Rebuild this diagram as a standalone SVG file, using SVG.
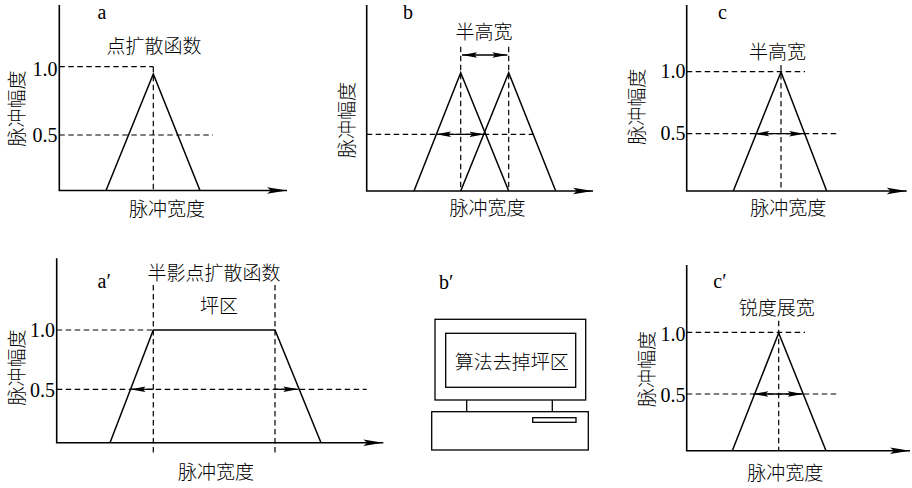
<svg xmlns="http://www.w3.org/2000/svg" width="912" height="488" viewBox="0 0 912 488">
  <style>
    .ax { stroke: #000; stroke-width: 1.6; fill: none; }
    .ln { stroke: #000; stroke-width: 1.5; fill: none; stroke-linejoin: miter; }
    .ds { stroke: #000; stroke-width: 1.2; fill: none; stroke-dasharray: 5.5 3.5; }
    .ar { stroke: #000; stroke-width: 1.3; fill: none; }
    .box { stroke: #000; stroke-width: 1.3; fill: #fff; }
    .cn { font-family: "Noto Sans CJK SC", "Noto Sans", sans-serif; font-size: 19px; font-weight: 300; fill: #000; text-anchor: middle; }
    .lat { font-family: "Liberation Serif", "Times New Roman", serif; font-size: 20px; fill: #000; }
    .num { font-family: "Liberation Serif", "Times New Roman", serif; font-size: 20px; fill: #000; text-anchor: end; }
  </style>
  <defs>
    <marker id="axhead" viewBox="0 0 20 8" refX="20" refY="4" markerWidth="20" markerHeight="8" markerUnits="userSpaceOnUse" orient="auto">
      <path d="M0,0.8 L20,4 L0,7.2 L4,4 z" fill="#000"/>
    </marker>
    <marker id="head" viewBox="0 0 15 6" refX="15" refY="3" markerWidth="15" markerHeight="6" markerUnits="userSpaceOnUse" orient="auto-start-reverse">
      <path d="M0,0.3 L15,3 L0,5.7 L2.5,3 z" fill="#000"/>
    </marker>
  </defs>

  <!-- panel a: point spread function -->
  <g id="panel-a">
    <path class="ax" d="M59.3,5 V190.5 H287" marker-end="url(#axhead)"/>
    <path class="ds" d="M59.3,66.7 H153.3 M153.3,66.7 V190.5 M59.3,135 H213"/>
    <path class="ln" d="M106,190.5 L153.3,74 L200,190.5"/>
    <text class="lat" x="97.5" y="19">a</text>
    <text class="cn" x="154" y="53.3">点扩散函数</text>
    <text class="num" x="57.5" y="76">1.0</text>
    <text class="num" x="57.5" y="141.7">0.5</text>
    <text class="cn" transform="translate(16.5,108.5) rotate(-90)" y="7">脉冲幅度</text>
    <text class="cn" x="167" y="215.5">脉冲宽度</text>
  </g>

  <!-- panel b: two overlapping spreads -->
  <g id="panel-b">
    <path class="ax" d="M366.7,5 V191 H593" marker-end="url(#axhead)"/>
    <path class="ds" d="M460.7,46.7 V191 M508.7,46.7 V191 M366.7,134.3 H533.3"/>
    <path class="ln" d="M414,191 L460.7,72.7 L508.7,191"/>
    <path class="ln" d="M460.7,191 L508.7,72.7 L555.7,191"/>
    <path class="ar" d="M462,55 H507.4" marker-start="url(#head)" marker-end="url(#head)"/>
    <path class="ar" d="M436,134.3 H484.5" marker-start="url(#head)" marker-end="url(#head)"/>
    <text class="lat" x="403" y="19">b</text>
    <text class="cn" x="484" y="39">半高宽</text>
    <text class="cn" transform="translate(346.7,120) rotate(-90)" y="7">脉冲幅度</text>
    <text class="cn" x="487.5" y="215">脉冲宽度</text>
  </g>

  <!-- panel c: half-height width -->
  <g id="panel-c">
    <path class="ax" d="M686.7,5 V191 H906.7" marker-end="url(#axhead)"/>
    <path class="ds" d="M686.7,71.7 H805 M781,65 V191 M686.7,133.7 H838.3"/>
    <path class="ln" d="M733.3,191 L781,72 L826.7,191"/>
    <path class="ar" d="M754.3,133.7 H804.3" marker-start="url(#head)" marker-end="url(#head)"/>
    <text class="lat" x="718" y="19">c</text>
    <text class="cn" x="777.5" y="58.7">半高宽</text>
    <text class="num" x="685.5" y="78.3">1.0</text>
    <text class="num" x="685.5" y="140">0.5</text>
    <text class="cn" transform="translate(636.7,106.7) rotate(-90)" y="7">脉冲幅度</text>
    <text class="cn" x="788.3" y="215">脉冲宽度</text>
  </g>

  <!-- panel a': penumbral spread with plateau -->
  <g id="panel-a-prime">
    <path class="ax" d="M56.7,258.3 V442.7 H383.3" marker-end="url(#axhead)"/>
    <path class="ds" d="M56.7,330 H153.3 M153.3,285 V455 M275,285 V455 M56.7,389.3 H366.7"/>
    <path class="ln" d="M110,442.7 L153.3,330 L275,330 L321,442.7"/>
    <path class="ar" d="M153.3,389.3 H130.5" marker-end="url(#head)"/>
    <path class="ar" d="M275,389.3 H298.3" marker-end="url(#head)"/>
    <text class="lat" x="97.5" y="287.7">a′</text>
    <text class="cn" x="214" y="279.5">半影点扩散函数</text>
    <text class="cn" x="219" y="312.8">坪区</text>
    <text class="num" x="55" y="337.3">1.0</text>
    <text class="num" x="55" y="396.7">0.5</text>
    <text class="cn" transform="translate(16.7,367.5) rotate(-90)" y="7">脉冲幅度</text>
    <text class="cn" x="216" y="478.7">脉冲宽度</text>
  </g>

  <!-- panel b': computer running the plateau-removal algorithm -->
  <g id="panel-b-prime">
    <text class="lat" x="439" y="289">b′</text>
    <rect class="box" x="435" y="319.3" width="150.7" height="80.7"/>
    <rect class="box" x="445.7" y="333.3" width="130" height="54"/>
    <text class="cn" x="511.7" y="368.7">算法去掉坪区</text>
    <path class="ar" d="M466.7,400 V411.7 M552.3,400 V411.7"/>
    <rect class="box" x="431.7" y="411.7" width="156.6" height="38.3"/>
    <rect class="box" x="532.7" y="417.7" width="43.3" height="4.6"/>
  </g>

  <!-- panel c': sharpness broadening -->
  <g id="panel-c-prime">
    <path class="ax" d="M686.7,265 V450.7 H910" marker-end="url(#axhead)"/>
    <path class="ds" d="M686.7,332.3 H805 M778.7,320.7 V450.7 M686.7,394 H839"/>
    <path class="ln" d="M732.3,450.7 L778.7,333 L826,450.7"/>
    <path class="ar" d="M753.3,394 H802.7" marker-start="url(#head)" marker-end="url(#head)"/>
    <text class="lat" x="713.3" y="288.3">c′</text>
    <text class="cn" x="776.7" y="314.5">锐度展宽</text>
    <text class="num" x="685.5" y="340.7">1.0</text>
    <text class="num" x="685.5" y="401.7">0.5</text>
    <text class="cn" transform="translate(646.7,369) rotate(-90)" y="7">脉冲幅度</text>
    <text class="cn" x="785.3" y="480.3">脉冲宽度</text>
  </g>
</svg>
